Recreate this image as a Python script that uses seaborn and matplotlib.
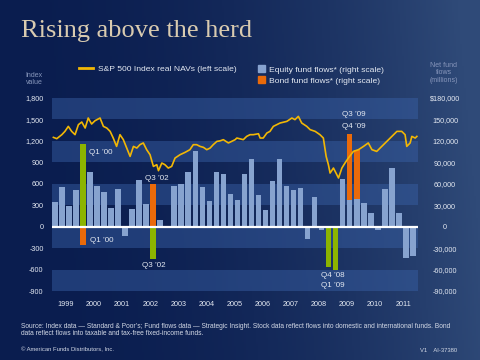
import numpy as np
import pandas as pd
import matplotlib.pyplot as plt
import seaborn as sns
from matplotlib.colors import to_rgb
from matplotlib.lines import Line2D
from matplotlib.patches import Patch

# ---- data ----
quarters = [f"Q{q} {y}" for y in range(1999, 2012) for q in range(1, 5)]
# equity fund flows, $ millions
equity_flows = [35000, 56000, 28500, 51500, 115000, 77000, 57500, 49000,
                26500, 53000, -13500, 25000, 65500, 32000, -45000, 10000,
                0, 57500, 60000, 76000, 106500, 56000, 36500, 76000,
                73000, 46000, 38000, 73000, 95000, 45000, 24000, 64500,
                95000, 57500, 51500, 54500, -17000, 42000, -5000, -57000,
                -60000, 67000, 37000, 39000, 33500, 18500, -4000, 53000,
                82500, 18500, -44000, -40500]
record_quarters = ["Q1 2000", "Q3 2002", "Q4 2008", "Q1 2009"]
bond_quarters = ["Q1 2000", "Q3 2002", "Q3 2009", "Q4 2009"]
bond_flows = [-26000, 59000, 129600, 107700]

# S&P 500 index real NAVs
sp_t = [1999.05, 1999.17, 1999.35, 1999.46, 1999.58, 1999.70, 1999.82, 1999.94,
        2000.06, 2000.18, 2000.29, 2000.41, 2000.53, 2000.71, 2000.83, 2000.95,
        2001.07, 2001.18, 2001.30, 2001.42, 2001.54, 2001.66, 2001.78, 2001.90,
        2002.02, 2002.13, 2002.25, 2002.37, 2002.49, 2002.61, 2002.73, 2002.79,
        2002.91, 2003.02, 2003.14, 2003.26, 2003.38, 2003.56, 2003.74, 2003.91,
        2004.03, 2004.15, 2004.27, 2004.39, 2004.51, 2004.63, 2004.74, 2004.87,
        2004.98, 2005.10, 2005.28, 2005.52, 2005.58, 2005.81, 2005.93, 2006.05,
        2006.17, 2006.35, 2006.41, 2006.52, 2006.65, 2006.76, 2006.88, 2007.12,
        2007.36, 2007.54, 2007.65, 2007.77, 2007.89, 2008.07, 2008.19, 2008.37,
        2008.54, 2008.66, 2008.76, 2008.84, 2008.90, 2009.02, 2009.20, 2009.32,
        2009.43, 2009.55, 2009.73, 2009.91, 2010.09, 2010.26, 2010.39, 2010.56,
        2010.74, 2010.92, 2011.10, 2011.28, 2011.45, 2011.57, 2011.63, 2011.75,
        2011.81, 2011.93, 2011.99]
sp_v = [1249, 1231, 1287, 1333, 1403, 1333, 1287, 1427,
        1464, 1380, 1520, 1436, 1482, 1520, 1403, 1380,
        1333, 1240, 1123, 1287, 1217, 1100, 983, 1123,
        1100, 1147, 1171, 1077, 1007, 843, 867, 783,
        890, 867, 820, 843, 960, 1007, 1040, 1077,
        1147, 1147, 1123, 1110, 1077, 1100, 1147, 1193,
        1200, 1217, 1171, 1217, 1240, 1217, 1263, 1287,
        1287, 1300, 1240, 1240, 1310, 1333, 1403, 1450,
        1473, 1520, 1497, 1543, 1450, 1403, 1357, 1333,
        1287, 1240, 983, 867, 750, 820, 681, 820,
        890, 960, 1053, 1077, 1123, 1171, 1077, 1053,
        1123, 1193, 1263, 1333, 1333, 1287, 1123, 1171,
        1263, 1240, 1263]

years = list(range(1999, 2012))
index_ticks = [-900, -600, -300, 0, 300, 600, 900, 1200, 1500, 1800]
flow_ticks = [-90000, -60000, -30000, 0, 30000, 60000, 90000, 120000, 150000, 180000]

GOLD = "#f2b705"
ORANGE = "#ea6a0a"
GREEN = "#8cb400"
STEEL = "#87a3cf"
TXT = "#e4e9f2"
MUTED = "#8796bb"

plt.rcParams["font.family"] = ["Liberation Sans", "DejaVu Sans"]


def qpos(label):
    q, y = label.split()
    return int(y) + (int(q[1]) - 1) / 4 + 0.1


eq = pd.DataFrame({"quarter": quarters, "flow": equity_flows})
eq["t"] = eq["quarter"].map(qpos)
eq["kind"] = np.where(eq["quarter"].isin(record_quarters), "record", "equity")
bd = pd.DataFrame({"quarter": bond_quarters, "flow": bond_flows})
bd["t"] = bd["quarter"].map(qpos)

fig = plt.figure(figsize=(4.8, 3.6), dpi=100)

# background gradient
bg = fig.add_axes([0, 0, 1, 1], zorder=-10)
gx, gy = np.meshgrid(np.linspace(0, 1, 240), np.linspace(0, 1, 180))
w = np.clip(gx ** 2.2 * 0.95 + 0.15 * (1 - gy) * gx, 0, 1)
dark, light = np.array(to_rgb("#0a1d4f")), np.array(to_rgb("#2f4a78"))
img = dark + (light - dark) * w[..., None]
bg.imshow(img, aspect="auto", extent=[0, 1, 0, 1], origin="upper")
bg.axis("off")

axf = fig.add_axes([52 / 480, 1 - 291 / 360, 366 / 480, 193 / 360])
axf.patch.set_alpha(0)

# horizontal bands
for lo in [150000, 90000, 30000, -30000, -90000]:
    axf.axhspan(lo, lo + 30000, color="#3a62a8", alpha=0.45, lw=0, zorder=0)

sns.barplot(data=bd, x="t", y="flow", color=ORANGE, native_scale=True,
            width=0.78, saturation=1, errorbar=None, linewidth=0, ax=axf)
sns.barplot(data=eq, x="t", y="flow", hue="kind",
            palette={"equity": STEEL, "record": GREEN}, dodge=False,
            native_scale=True, width=0.78, saturation=1, errorbar=None,
            linewidth=0, legend=False, ax=axf)
axf.axhline(0, color="white", lw=1.6, zorder=3)

# S&P line on top, on its own scale
axi = axf.twinx()
sns.lineplot(x=sp_t, y=sp_v, color=GOLD, lw=1.2, ax=axi)
axi.set_ylim(-900, 1800)

axf.set_xlim(1999, 2012.03)
axf.set_ylim(-90000, 180000)
axf.set_xticks([y + 0.5 for y in years])
axf.set_xticklabels([str(y) for y in years])
axf.set_yticks(flow_ticks)
axf.set_yticklabels([("$" if v == 180000 else "") + f"{v:,}" for v in flow_ticks])
axf.yaxis.tick_right()
axf.tick_params(axis="y", length=0, pad=19.5, labelsize=5.2, labelcolor=TXT,
                left=False, labelleft=False, right=True, labelright=True)
for lab in axf.get_yticklabels():
    lab.set_horizontalalignment("center")
axf.tick_params(axis="x", length=0, pad=7, labelsize=5.2, labelcolor=TXT)
axf.set_xlabel("")
axf.set_ylabel("")

axi.set_yticks(index_ticks)
axi.set_yticklabels([f"{v:,}" for v in index_ticks])
axi.yaxis.tick_left()
axi.tick_params(axis="y", length=0, pad=6, labelsize=5.2, labelcolor=TXT,
                right=False, labelright=False, left=True, labelleft=True)
for a in (axf, axi):
    for s in a.spines.values():
        s.set_visible(False)

# quarter annotations
ann = dict(color=TXT, fontsize=5.8)
axf.text(2000.32, 103500, "Q1 \u201900", ha="left", va="center", **ann)
axf.text(2000.35, -19600, "Q1 \u201900", ha="left", va="center", **ann)
axf.text(2002.72, 67100, "Q3 \u201902", ha="center", va="center", **ann)
axf.text(2002.61, -54500, "Q3 \u201902", ha="center", va="center", **ann)
axf.text(2009.74, 156600, "Q3 \u201909", ha="center", va="center", **ann)
axf.text(2009.74, 139900, "Q4 \u201909", ha="center", va="center", **ann)
axf.text(2009.0, -68500, "Q4 \u201908", ha="center", va="center", **ann)
axf.text(2009.0, -82500, "Q1 \u201909", ha="center", va="center", **ann)

# title and axis captions
fig.text(21 / 480, 1 - 37 / 360, "Rising above the herd", family="Liberation Serif",
         fontsize=19, color="#d9cbb0", va="baseline")
fig.text(34 / 480, 1 - 79 / 360, "Index\nvalue", ha="center", va="center",
         fontsize=5, color=MUTED, linespacing=1.0)
fig.text(444 / 480, 1 - 73 / 360, "Net fund\nflows\n(millions)", ha="center", va="center",
         fontsize=5, color=MUTED, linespacing=1.1)

# legends
leg1 = fig.legend(handles=[Line2D([], [], color=GOLD, lw=2)],
                  labels=["S&P 500 Index real NAVs (left scale)"],
                  loc="center left", bbox_to_anchor=(79 / 480, 1 - 69 / 360),
                  frameon=False, fontsize=6.1, handlelength=1.7, handletextpad=0.6,
                  borderpad=0, borderaxespad=0)
for t in leg1.get_texts():
    t.set_color(TXT)
leg2 = fig.legend(handles=[Patch(color=STEEL), Patch(color=ORANGE)],
                  labels=["Equity fund flows* (right scale)", "Bond fund flows* (right scale)"],
                  loc="center left", bbox_to_anchor=(258 / 480, 1 - 75 / 360),
                  frameon=False, fontsize=6.1, handlelength=0.85, handleheight=0.85,
                  handletextpad=0.5, labelspacing=0.35, borderpad=0, borderaxespad=0)
for t in leg2.get_texts():
    t.set_color(TXT)

# footer
fig.text(21 / 480, 1 - 330 / 360,
         "Source: Index data \u2014 Standard & Poor\u2019s; Fund flows data \u2014 Strategic Insight. "
         "Stock data reflect flows into domestic and international funds. Bond\n"
         "data reflect flows into taxable and tax-free fixed-income funds.",
         fontsize=4.8, color="#d3d9e6", va="center", linespacing=1.05)
fig.text(21 / 480, 1 - 350 / 360, "\u00a9 American Funds Distributors, Inc.",
         fontsize=4.2, color="#d3d9e6", va="center")
fig.text(457 / 480, 1 - 350 / 360, "V1    AI-37380", fontsize=4.2, color="#d3d9e6",
         va="center", ha="right")

fig.savefig("out.png", dpi=100)
